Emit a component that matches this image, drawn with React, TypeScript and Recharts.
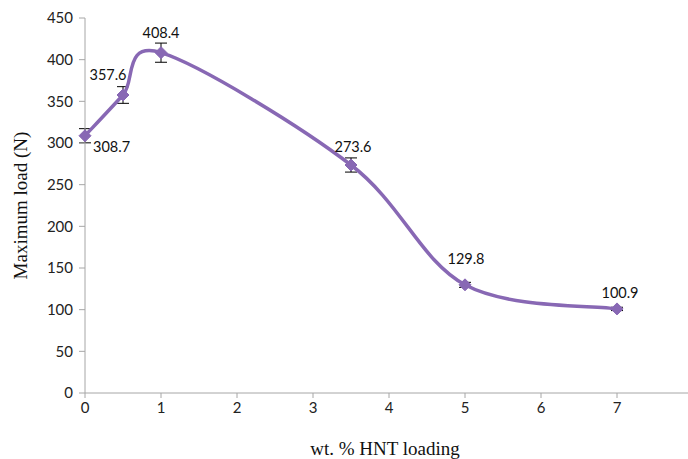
import React from "react";
import {
  LineChart,
  Line,
  XAxis,
  YAxis,
  ErrorBar,
  LabelList,
  Label,
} from "recharts";

const loading = [0, 0.5, 1, 3.5, 5, 7];
const maxLoad = [308.7, 357.6, 408.4, 273.6, 129.8, 100.9];
const loadError = [8.5, 10, 11.5, 8.5, 3, 2];
const xTicks = [0, 1, 2, 3, 4, 5, 6, 7, 8];
const yTicks = [0, 50, 100, 150, 200, 250, 300, 350, 400, 450];

const data = loading.map((x, i) => ({ x, load: maxLoad[i], err: loadError[i] }));

const PURPLE = "#8868B4";
const AXIS = "#a6a6a6";
const SANS = "Lato, 'Open Sans', sans-serif";
const SERIF = "'Liberation Serif', 'DejaVu Serif', serif";

// Excel-like smoothing: bezier with control points at 1/6 of neighbour span
function excelCurve(context: any) {
  let pts: number[][] = [];
  return {
    areaStart() {},
    areaEnd() {},
    lineStart() {
      pts = [];
    },
    point(x: number, y: number) {
      pts.push([+x, +y]);
    },
    lineEnd() {
      const n = pts.length;
      if (!n) return;
      context.moveTo(pts[0][0], pts[0][1]);
      for (let i = 0; i < n - 1; i++) {
        const p0 = pts[Math.max(i - 1, 0)];
        const p1 = pts[i];
        const p2 = pts[i + 1];
        const p3 = pts[Math.min(i + 2, n - 1)];
        context.bezierCurveTo(
          p1[0] + (p2[0] - p0[0]) / 6,
          p1[1] + (p2[1] - p0[1]) / 6,
          p2[0] - (p3[0] - p1[0]) / 6,
          p2[1] - (p3[1] - p1[1]) / 6,
          p2[0],
          p2[1]
        );
      }
    },
  };
}

// label placement around each point: [dx, dy, anchor]
const labelPlace: [number, number, string][] = [
  [8, 16, "start"],
  [-15, -15, "middle"],
  [0, -15, "middle"],
  [2, -13, "middle"],
  [1, -21, "middle"],
  [3, -11, "middle"],
];

const Diamond = (props: any) => {
  const { cx, cy, index } = props;
  if (cx == null || cy == null) return null;
  const r = 6;
  return (
    <polygon
      key={`d-${index}`}
      points={`${cx},${cy - r} ${cx + r},${cy} ${cx},${cy + r} ${cx - r},${cy}`}
      fill={PURPLE}
      stroke={PURPLE}
    />
  );
};

const PointLabel = (props: any) => {
  const { x, y, value, index } = props;
  const [dx, dy, anchor] = labelPlace[index] || [0, -14, "middle"];
  return (
    <text
      x={x + dx}
      y={y + dy}
      textAnchor={anchor as any}
      fontFamily={SANS}
      fontSize={14.5}
      fill="#111"
    >
      {Number(value).toFixed(1)}
    </text>
  );
};

export default function App() {
  return (
    <div
      style={{
        position: "absolute",
        left: 0,
        top: 0,
        width: 688,
        height: 459,
        overflow: "hidden",
        background: "#fff",
      }}
    >
      <LineChart
        width={700}
        height={459}
        data={data}
        margin={{ top: 18, right: 7, bottom: 36, left: 25 }}
      >
        <XAxis
          dataKey="x"
          type="number"
          domain={[0, 8]}
          ticks={xTicks}
          tickFormatter={(v) => (v === 8 ? "" : String(v))}
          stroke={AXIS}
          tickSize={5}
          tickMargin={4}
          height={30}
          tick={{ fill: "#222", fontFamily: SANS, fontSize: 15 }}
        >
          <Label
            content={(p: any) => (
              <text
                x={p.viewBox.x + 300}
                y={455}
                textAnchor="middle"
                fontFamily={SERIF}
                fontSize={19}
                fill="#111"
              >
                wt. % HNT loading
              </text>
            )}
          />
        </XAxis>
        <YAxis
          type="number"
          domain={[0, 450]}
          ticks={yTicks}
          stroke={AXIS}
          tickSize={6}
          tickMargin={6}
          width={60}
          tick={{ fill: "#222", fontFamily: SANS, fontSize: 15 }}
        >
          <Label
            content={(p: any) => {
              const cy = p.viewBox.y + p.viewBox.height / 2;
              return (
                <text
                  x={27}
                  y={cy}
                  transform={`rotate(-90, 27, ${cy})`}
                  textAnchor="middle"
                  fontFamily={SERIF}
                  fontSize={19}
                  fill="#111"
                >
                  Maximum load (N)
                </text>
              );
            }}
          />
        </YAxis>
        <Line
          dataKey="load"
          type={excelCurve as any}
          stroke={PURPLE}
          strokeWidth={3.5}
          dot={Diamond}
          activeDot={false}
          isAnimationActive={false}
        >
          <ErrorBar dataKey="err" direction="y" width={6} stroke="#000" strokeWidth={1} />
          <LabelList dataKey="load" content={PointLabel} />
        </Line>
      </LineChart>
    </div>
  );
}
